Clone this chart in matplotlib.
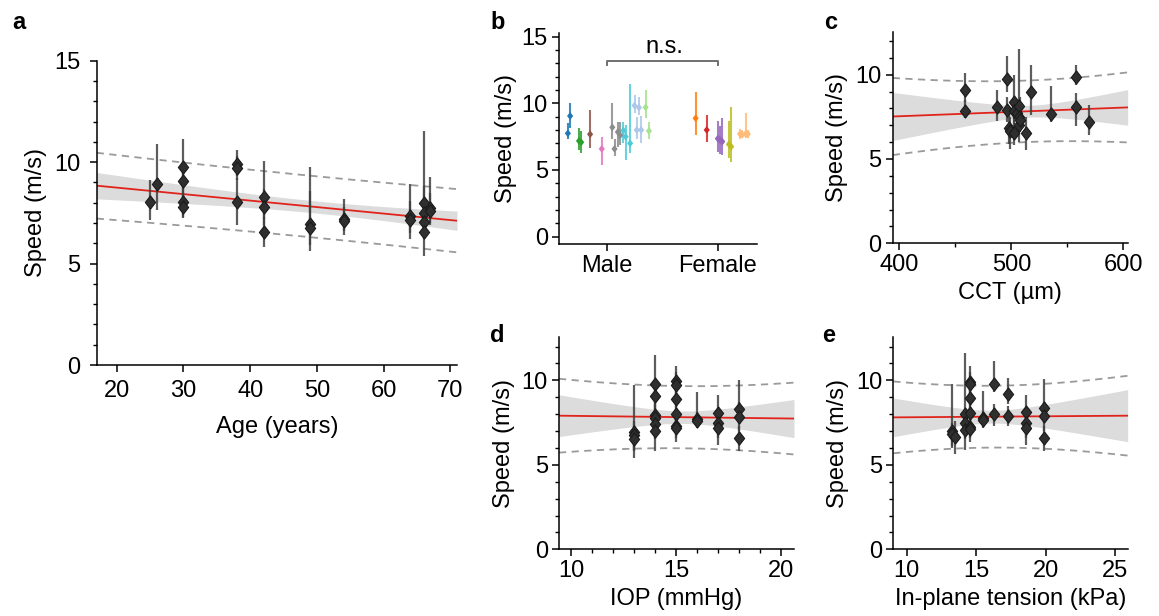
import numpy as np
import matplotlib
matplotlib.use('Agg')
import matplotlib.pyplot as plt
from matplotlib.path import Path
from matplotlib.ticker import MultipleLocator, NullLocator

plt.rcParams['font.family'] = ['Liberation Sans', 'DejaVu Sans']
plt.rcParams['font.size'] = 17

# ---------------- data ----------------
# panel a: age
age_a = [25, 26, 30, 30, 30, 30, 38, 38, 38, 42, 42, 42, 49, 49, 54, 54, 64, 64, 66, 66, 66, 66, 67, 67]
speed_a = [8.05, 8.92, 9.78, 9.09, 8.02, 7.80, 9.90, 9.69, 8.05, 8.30, 7.80, 6.57, 6.93, 6.77, 7.20, 7.10,
           7.36, 7.15, 7.97, 7.47, 7.07, 6.57, 7.72, 7.60]
lo_a = [7.15, 7.64, 8.90, 8.20, 7.30, 7.23, 9.30, 9.10, 6.90, 7.20, 6.90, 5.83, 5.90, 5.63, 6.60, 6.40,
        6.50, 6.19, 7.00, 6.60, 6.20, 5.37, 7.00, 6.90]
hi_a = [9.12, 10.90, 11.12, 10.00, 8.80, 8.50, 10.60, 10.30, 9.20, 10.05, 8.70, 7.30, 9.77, 8.60, 8.17, 7.80,
        8.92, 8.10, 8.80, 11.53, 8.00, 7.40, 9.28, 8.50]

# panel b: sex groups
b_categories = ['Male', 'Female']
b_x = [-0.35, -0.33, -0.25, -0.23, -0.15, -0.045, 0.05, 0.07, 0.10, 0.12, 0.15, 0.17, 0.21,
       0.25, 0.29, 0.27, 0.31, 0.35, 0.38,
       0.80, 0.90, 1.00, 1.02, 1.04, 1.10, 1.12, 1.20, 1.22, 1.25, 1.27]
speed_b = [7.75, 9.05, 7.18, 7.08, 7.68, 6.58, 8.20, 6.58, 7.85, 7.60, 7.95, 7.50, 7.00,
           9.83, 9.68, 8.00, 8.00, 9.70, 7.93,
           8.88, 8.00, 7.35, 7.25, 7.13, 6.93, 6.75, 7.70, 7.65, 7.70, 7.70]
lo_b = [7.30, 8.13, 6.50, 6.30, 6.63, 5.38, 7.30, 6.08, 6.73, 6.90, 7.00, 5.75, 6.25,
        9.30, 9.10, 7.30, 7.00, 8.93, 7.30,
        7.63, 7.10, 6.38, 6.20, 6.10, 5.90, 5.58, 7.30, 7.40, 7.38, 7.40]
hi_b = [8.50, 10.00, 8.13, 7.90, 9.50, 7.50, 10.00, 7.33, 8.60, 8.60, 8.60, 8.35, 11.43,
        10.60, 10.50, 9.00, 9.05, 11.00, 8.60,
        10.83, 9.10, 8.68, 8.30, 8.90, 8.68, 9.70, 8.10, 8.00, 9.25, 8.00]
b_colors = ['#1f77b4', '#1f77b4', '#2ca02c', '#2ca02c', '#8c564b', '#e377c2', '#8c8c8c', '#8c8c8c',
            '#8c8c8c', '#8c8c8c', '#4fcad8', '#4fcad8', '#4fcad8',
            '#aec7e8', '#aec7e8', '#aec7e8', '#aec7e8', '#a8e290', '#a8e290',
            '#ff7f0e', '#d62728', '#9467bd', '#9467bd', '#9467bd', '#bcbd22', '#bcbd22',
            '#ffbb78', '#ffbb78', '#ffbb78', '#ffbb78']

# panel c: CCT
cct_c = [458.7, 458.7, 487.5, 495.9, 495.9, 497.9, 498.5, 502.4, 502.4, 502.4, 505.5, 506.6, 506.6, 506.6,
         507.8, 512.9, 517.9, 535.4, 557.9, 557.9, 569.7]
speed_c = [9.11, 7.82, 8.08, 9.74, 7.92, 6.83, 6.69, 8.36, 7.82, 6.57, 7.70, 8.12, 7.52, 7.03,
           7.33, 6.57, 8.95, 7.68, 9.86, 8.08, 7.17]
lo_c = [8.40, 7.43, 7.25, 9.00, 7.20, 5.90, 5.60, 7.30, 7.10, 5.85, 7.00, 7.30, 6.80, 6.00,
        6.60, 5.54, 7.62, 7.20, 9.40, 6.93, 6.43]
hi_c = [10.10, 8.50, 9.11, 11.10, 8.70, 7.70, 7.50, 10.00, 8.60, 7.30, 8.40, 11.53, 8.30, 7.80,
        8.70, 7.52, 10.58, 9.30, 10.60, 8.90, 8.20]

# panel d: IOP
iop_d = [13, 13, 13, 14, 14, 14, 14, 14, 14, 15, 15, 15, 15, 15, 15, 16, 16, 17, 17, 17, 18, 18, 18]
speed_d = [6.93, 6.74, 6.55, 9.78, 9.09, 7.96, 7.80, 7.41, 7.01, 9.94, 9.74, 8.91, 8.02, 7.27, 7.17,
           7.72, 7.60, 8.06, 7.47, 7.17, 8.32, 7.86, 6.58]
lo_d = [5.90, 5.39, 5.80, 9.00, 8.30, 7.20, 6.90, 6.50, 5.83, 9.20, 9.00, 8.20, 7.30, 6.60, 6.38,
        7.30, 7.20, 7.40, 6.60, 6.18, 7.50, 7.00, 5.83]
hi_d = [9.74, 7.60, 7.30, 11.52, 9.90, 8.80, 8.60, 8.20, 7.80, 10.88, 10.50, 9.60, 8.80, 8.00, 7.90,
        9.31, 8.10, 9.11, 8.30, 7.90, 10.04, 8.70, 7.30]

# panel e: in-plane tension
ten_e = [13.29, 13.29, 13.45, 14.21, 14.21, 14.21, 14.59, 14.59, 14.59, 14.59, 14.59, 14.59,
         15.52, 15.52, 16.31, 16.31, 17.26, 17.26, 18.57, 18.57, 18.57, 19.88, 19.88, 19.88]
speed_e = [6.98, 6.82, 6.62, 8.01, 7.46, 7.06, 9.90, 9.76, 8.97, 8.07, 7.26, 7.12,
           7.78, 7.66, 9.80, 8.01, 9.17, 7.87, 8.11, 7.46, 7.17, 8.37, 7.90, 6.58]
lo_e = [5.98, 6.10, 5.63, 7.20, 6.50, 5.87, 9.20, 9.00, 8.20, 7.30, 6.60, 6.38,
        7.30, 7.20, 9.30, 7.30, 8.60, 7.30, 7.40, 6.60, 6.18, 7.50, 7.00, 5.83]
hi_e = [9.80, 7.50, 7.58, 11.60, 8.30, 7.80, 10.86, 10.50, 9.70, 8.80, 8.00, 7.90,
        9.37, 8.10, 11.16, 8.60, 10.16, 8.50, 9.11, 8.30, 7.90, 10.10, 8.70, 7.30]

# linear-regression summaries:
# [intercept, slope, t*s (residual), n, mean x, Sxx]
fit_a = [9.384, -0.0320, 1.485, 25, 49.9, 7136.0]
fit_c = [6.507, 0.002571, 1.789, 26, 516.1, 24970.0]
fit_d = [8.053, -0.0152, 1.803, 24, 15.3, 80.3]
fit_e = [7.756, 0.00593, 1.790, 22, 16.12, 137.5]

# ---------------- helpers ----------------
FS = 17
diamond = Path([(0, 1), (0.78, 0), (0, -1), (-0.78, 0), (0, 1)],
               [Path.MOVETO, Path.LINETO, Path.LINETO, Path.LINETO, Path.CLOSEPOLY])


def fit_bands(ax, fit, xlim):
    a, b, ts, n, xm, sxx = fit
    xs = np.linspace(xlim[0], xlim[1], 300)
    yhat = a + b * xs
    ci = ts * np.sqrt(1 / n + (xs - xm) ** 2 / sxx)
    pi = ts * np.sqrt(1 + 1 / n + (xs - xm) ** 2 / sxx)
    ax.fill_between(xs, yhat - ci, yhat + ci, color='#dcdcdc', lw=0, zorder=1)
    ax.plot(xs, yhat, color='#e0241b', lw=1.3, zorder=2)
    for sgn in (1, -1):
        ax.plot(xs, yhat + sgn * pi, color='#9a9a9a', lw=1.3, ls=(0, (4, 3)), zorder=2)


def points(ax, x, y, lo, hi):
    ax.vlines(x, lo, hi, color='#404040', lw=1.6, alpha=0.85, zorder=3)
    ax.plot(x, y, ls='none', marker=diamond, ms=9.5, mfc='#2f2f2f', mec='#1a1a1a',
            mew=0.8, zorder=4)


def style(ax, xpad=3, ypad=3):
    for sp in ('top', 'right'):
        ax.spines[sp].set_visible(False)
    for sp in ('left', 'bottom'):
        ax.spines[sp].set_linewidth(1.1)
    ax.tick_params(which='major', length=5, width=1.1, labelsize=FS)
    ax.tick_params(which='minor', length=3, width=1.0)
    ax.tick_params(axis='x', pad=xpad)
    ax.tick_params(axis='y', pad=ypad)
    ax.yaxis.set_major_locator(MultipleLocator(5))
    ax.yaxis.set_minor_locator(MultipleLocator(1))


W, H = 1159, 616
fig = plt.figure(figsize=(W / 100, H / 100), dpi=100)


def add_axes(l, r, t, b):
    return fig.add_axes([l / W, 1 - b / H, (r - l) / W, (b - t) / H])


# ---------------- panel a ----------------
ax = add_axes(96.7, 457, 60.7, 365)
xl = (17, 71)
fit_bands(ax, fit_a, xl)
points(ax, age_a, speed_a, lo_a, hi_a)
ax.set_xlim(*xl)
ax.set_ylim(0, 15)
style(ax, xpad=6, ypad=7)
ax.xaxis.set_major_locator(MultipleLocator(10))
ax.xaxis.set_minor_locator(NullLocator())
ax.set_xlabel('Age (years)', fontsize=FS, labelpad=10)
ax.set_ylabel('Speed (m/s)', fontsize=FS, labelpad=5)

# ---------------- panel b ----------------
ax = add_axes(559, 756.7, 33.3, 244)
ax.vlines(b_x, lo_b, hi_b, colors=b_colors, lw=1.5, alpha=0.85, zorder=3)
ax.scatter(b_x, speed_b, c=b_colors, marker=diamond, s=32, zorder=4, linewidths=0)
ax.set_xlim(-0.43, 1.35)
ax.set_ylim(-0.55, 15.25)
style(ax)
ax.set_xticks([0, 1])
ax.set_xticklabels(b_categories)
ax.xaxis.set_minor_locator(NullLocator())
ax.set_ylabel('Speed (m/s)', fontsize=FS, labelpad=3)
ax.plot([0, 0, 1, 1], [12.88, 13.18, 13.18, 12.88], color='#707070', lw=1.4,
        clip_on=False, zorder=5)
ax.text(0.52, 13.76, 'n.s.', ha='center', va='baseline', fontsize=FS)

# ---------------- panel c ----------------
ax = add_axes(892.7, 1127.7, 31.7, 243.3)
xl = (394, 604)
fit_bands(ax, fit_c, xl)
points(ax, cct_c, speed_c, lo_c, hi_c)
ax.set_xlim(*xl)
ax.set_ylim(0, 12.55)
style(ax)
ax.xaxis.set_major_locator(MultipleLocator(100))
ax.xaxis.set_minor_locator(MultipleLocator(50))
ax.set_xlabel('CCT (µm)', fontsize=FS, labelpad=4)
ax.set_ylabel('Speed (m/s)', fontsize=FS, labelpad=5)

# ---------------- panel d ----------------
ax = add_axes(559, 794, 337.3, 549.3)
xl = (9.43, 20.6)
fit_bands(ax, fit_d, xl)
points(ax, iop_d, speed_d, lo_d, hi_d)
ax.set_xlim(*xl)
ax.set_ylim(0, 12.55)
style(ax)
ax.xaxis.set_major_locator(MultipleLocator(5))
ax.xaxis.set_minor_locator(MultipleLocator(1))
ax.set_xlabel('IOP (mmHg)', fontsize=FS, labelpad=4)
ax.set_ylabel('Speed (m/s)', fontsize=FS, labelpad=5)

# ---------------- panel e ----------------
ax = add_axes(893.3, 1127.7, 337.3, 549.3)
xl = (9.04, 25.9)
fit_bands(ax, fit_e, xl)
points(ax, ten_e, speed_e, lo_e, hi_e)
ax.set_xlim(*xl)
ax.set_ylim(0, 12.55)
style(ax)
ax.xaxis.set_major_locator(MultipleLocator(5))
ax.xaxis.set_minor_locator(NullLocator())
ax.set_xlabel('In-plane tension (kPa)', fontsize=FS, labelpad=4)
ax.set_ylabel('Speed (m/s)', fontsize=FS, labelpad=5)

# ---------------- panel letters ----------------
for lab, x, y in [('a', 12, 29), ('b', 490, 29), ('c', 824, 29), ('d', 490, 342), ('e', 822, 342)]:
    fig.text(x / W, 1 - y / H, lab, fontsize=17, fontweight='bold', va='baseline', ha='left')

fig.savefig('out.png', dpi=100)
